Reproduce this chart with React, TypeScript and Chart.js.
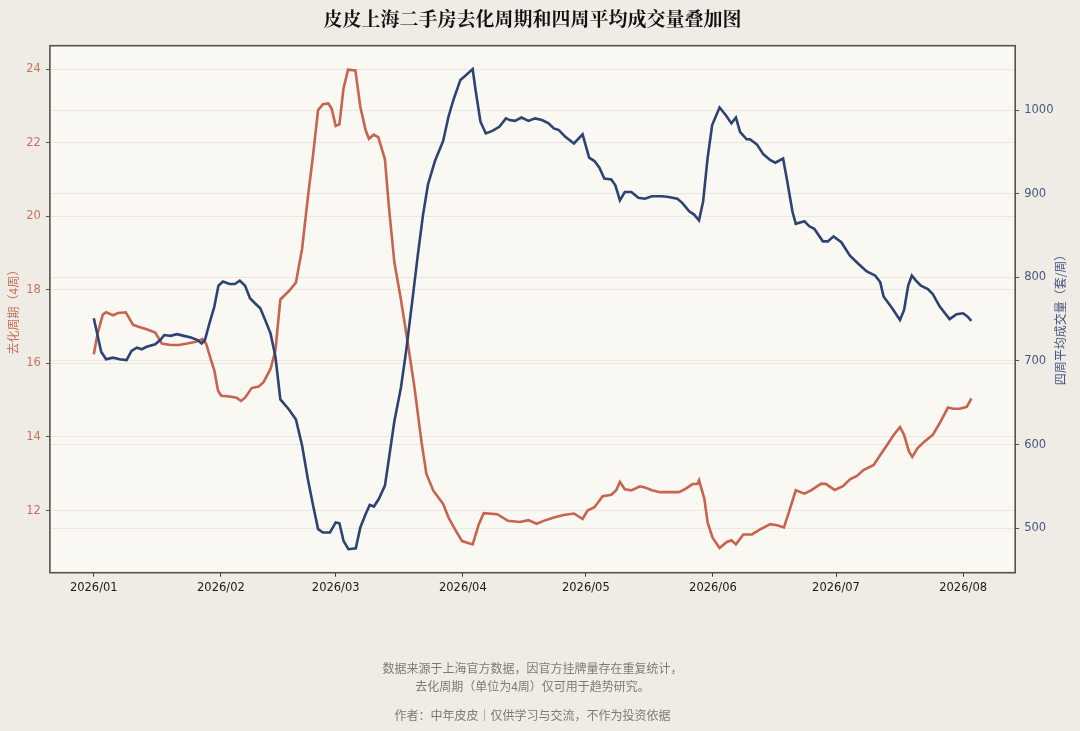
import React, { useEffect, useRef } from "react";
import { Chart, registerables } from "chart.js";

Chart.register(...registerables);

// ---- data (days counted from 2026-01-01) ----
const monthStartDays = [0, 31, 59, 90, 120, 151, 181, 212];
const monthLabels = ["2026/01", "2026/02", "2026/03", "2026/04", "2026/05", "2026/06", "2026/07", "2026/08"];

const cycleTicks = [12, 14, 16, 18, 20, 22, 24];
const volumeTicks = [500, 600, 700, 800, 900, 1000];

const cycleDays = [
  0, 0.95, 2.2, 3.0, 4.7, 5.9, 7.8, 9.6, 10.9, 12.9, 15.0, 16.6, 18.7, 20.8, 22.8, 24.9, 26.5, 27.4, 28.6, 29.4,
  30.3, 31.1, 33.1, 34.8, 35.9, 36.9, 38.5, 40.2, 41.4, 43.1, 44.3, 45.5, 47.6, 49.3, 50.8, 52.2, 53.5, 54.7, 55.9, 57.2,
  58.0, 59.0, 59.9, 60.9, 62.0, 63.8, 65.0, 66.3, 67.1, 68.3, 69.4, 71.0, 72.0, 73.3, 74.9, 76.6, 78.2, 79.9, 81.1, 82.8,
  85.2, 86.5, 88.1, 89.8, 92.4, 93.9, 95.1, 98.4, 101.0, 103.9, 106.0, 108.0, 109.7, 112.2, 114.6, 117.1, 119.2, 120.4, 122.1, 124.1,
  126.2, 127.4, 128.3, 129.5, 131.1, 133.2, 134.4, 136.1, 138.1, 140.2, 142.7, 144.3, 146.0, 147.2, 147.6, 148.9, 149.7, 150.9, 152.6, 154.3,
  155.5, 156.6, 158.4, 160.5, 162.5, 165.0, 166.6, 168.3, 169.5, 171.2, 173.3, 174.9, 177.4, 178.6, 180.7, 182.7, 184.4, 186.1, 187.7, 190.2,
  191.8, 193.5, 195.1, 196.6, 197.6, 198.8, 199.6, 200.9, 202.6, 204.6, 206.3, 208.3, 209.6, 211.2, 212.9, 213.7, 214.0,
];
const cycleValues = [
  16.25, 16.82, 17.33, 17.39, 17.31, 17.37, 17.39, 17.05, 17.0, 16.93, 16.84, 16.54, 16.5, 16.5, 16.54, 16.59, 16.66, 16.54, 16.09, 15.81,
  15.26, 15.12, 15.1, 15.07, 14.98, 15.07, 15.33, 15.37, 15.49, 15.85, 16.36, 17.74, 17.97, 18.2, 19.12, 20.5, 21.69, 22.89, 23.05, 23.07,
  22.93, 22.46, 22.5, 23.48, 23.99, 23.97, 22.98, 22.34, 22.11, 22.22, 22.15, 21.55, 20.22, 18.75, 17.74, 16.54, 15.35, 13.88, 13.0, 12.54,
  12.18, 11.81, 11.49, 11.17, 11.08, 11.63, 11.93, 11.9, 11.72, 11.69, 11.74, 11.64, 11.72, 11.81, 11.88, 11.92, 11.77, 12.0, 12.09, 12.39,
  12.43, 12.55, 12.78, 12.58, 12.55, 12.66, 12.63, 12.55, 12.5, 12.5, 12.5, 12.59, 12.72, 12.72, 12.82, 12.32, 11.67, 11.26, 10.98, 11.14,
  11.19, 11.08, 11.35, 11.35, 11.49, 11.63, 11.6, 11.54, 11.95, 12.55, 12.46, 12.55, 12.73, 12.72, 12.56, 12.66, 12.85, 12.94, 13.1, 13.24,
  13.51, 13.79, 14.06, 14.27, 14.06, 13.6, 13.46, 13.7, 13.88, 14.06, 14.38, 14.8, 14.77, 14.77, 14.82, 14.98, 15.05,
];

const volumeDays = [
  0, 1.0, 1.8, 3.0, 4.7, 6.3, 8.0, 9.2, 10.5, 11.7, 12.9, 15.0, 16.2, 17.2, 18.7, 20.3, 22.0, 23.7, 25.3, 26.3,
  27.1, 28.2, 29.4, 30.4, 31.5, 33.1, 34.4, 35.6, 36.9, 38.1, 39.3, 40.6, 41.8, 43.1, 44.3, 45.5, 47.6, 49.3, 50.8, 52.2,
  53.5, 54.7, 55.9, 57.6, 59.0, 59.9, 60.9, 62.1, 63.9, 65.0, 66.3, 67.3, 68.3, 69.5, 71.0, 72.0, 73.3, 74.9, 76.2, 77.8,
  79.0, 80.3, 81.5, 83.2, 85.2, 86.5, 87.7, 89.4, 90.6, 92.4, 93.1, 94.3, 95.6, 97.2, 98.9, 100.5, 101.4, 102.7, 104.3, 106.0,
  107.6, 109.3, 110.9, 112.2, 113.4, 115.0, 117.1, 119.2, 120.8, 122.1, 123.3, 124.5, 126.2, 127.2, 128.3, 129.5, 131.1, 132.8, 134.4, 136.1,
  138.6, 140.2, 142.3, 143.5, 145.2, 146.4, 147.6, 148.6, 149.7, 150.8, 152.6, 154.1, 155.5, 156.6, 157.6, 159.2, 160.0, 161.7, 163.3, 165.0,
  166.2, 168.1, 169.1, 170.4, 171.2, 173.3, 174.5, 175.7, 177.8, 179.0, 180.4, 182.3, 184.4, 186.5, 188.5, 190.6, 191.8, 192.6, 194.7, 196.6,
  197.6, 198.6, 199.5, 200.5, 201.7, 203.4, 204.6, 206.3, 208.7, 210.4, 212.0, 213.1, 214.0,
];
const volumeValues = [
  751, 729, 711, 702, 704, 702, 701, 712, 716, 714, 717, 720, 725, 731, 730, 732, 730, 728, 725, 721,
  725, 745, 765, 790, 795, 792, 792, 796, 790, 775, 769, 763, 749, 733, 705, 654, 642, 630, 599, 559,
  527, 499, 495, 495, 507, 506, 485, 475, 476, 501, 517, 528, 526, 535, 551, 584, 628, 668, 713, 777,
  826, 875, 911, 939, 963, 992, 1012, 1036, 1041, 1049, 1024, 986, 972, 975, 980, 990, 988, 987, 991, 987,
  990, 988, 984, 978, 976, 968, 960, 971, 943, 939, 931, 918, 917, 910, 892, 902, 902, 895, 894, 897,
  897, 896, 894, 889, 879, 875, 868, 891, 943, 982, 1003, 994, 984, 991, 974, 965, 965, 959, 947, 940,
  937, 942, 915, 878, 864, 867, 861, 858, 843, 843, 849, 842, 826, 816, 807, 802, 794, 777, 763, 749,
  761, 790, 802, 796, 790, 786, 780, 765, 750, 756, 757, 753, 748,
];

// ---- styling ----
const PAGE_BG = "#efece5";
const PLOT_BG = "#faf8f2";
const RED = "#c8634e";
const BLUE = "#2d4373";
const RED_TEXT = "#c8725f";
const BLUE_TEXT = "#4b5680";
const GRID = "rgba(205,200,185,0.35)";
const FRAME = "#55534b";
const TICK_FONT = { family: "'DejaVu Sans', sans-serif", size: 11.5 };
const CJK = "'Noto Sans CJK SC', 'Noto Sans', sans-serif";

const W = 1080;
const H = 731;
const PLOT_LEFT = 49.9;
const PLOT_RIGHT = 1015.2;
const PLOT_TOP = 45.7;
const PLOT_BOTTOM = 572.7;

export default function App() {
  const ref = useRef<HTMLCanvasElement | null>(null);

  useEffect(() => {
    if (!ref.current) return;
    const framePlugin = {
      id: "frame",
      beforeDraw(chart: any) {
        const { ctx, chartArea: a, width, height } = chart;
        ctx.save();
        ctx.fillStyle = PAGE_BG;
        ctx.fillRect(0, 0, width, height);
        ctx.fillStyle = PLOT_BG;
        ctx.fillRect(a.left, a.top, a.right - a.left, a.bottom - a.top);
        ctx.restore();
      },
      afterDraw(chart: any) {
        const { ctx, chartArea: a } = chart;
        ctx.save();
        ctx.strokeStyle = FRAME;
        ctx.lineWidth = 1.6;
        ctx.strokeRect(a.left, a.top, a.right - a.left, a.bottom - a.top);
        ctx.restore();
      },
    };

    const chart = new Chart(ref.current, {
      type: "line",
      data: {
        datasets: [
          {
            label: "四周平均成交量（套/周）",
            data: volumeDays.map((d, i) => ({ x: d, y: volumeValues[i] })),
            yAxisID: "yVolume",
            borderColor: BLUE,
            borderWidth: 2.6,
            pointRadius: 0,
            tension: 0,
            order: 0,
          },
          {
            label: "去化周期（4周）",
            data: cycleDays.map((d, i) => ({ x: d, y: cycleValues[i] })),
            yAxisID: "yCycle",
            borderColor: RED,
            borderWidth: 2.6,
            pointRadius: 0,
            tension: 0,
            order: 1,
          },
        ],
      },
      options: {
        animation: false,
        responsive: false,
        parsing: false as any,
        layout: { padding: { left: 0, right: 0, top: PLOT_TOP, bottom: H - PLOT_BOTTOM - 40 } },
        plugins: {
          legend: { display: false },
          tooltip: { enabled: false },
          title: { display: false },
        },
        scales: {
          x: {
            type: "linear",
            min: -10.7,
            max: 224.7,
            afterBuildTicks: (ax: any) => {
              ax.ticks = monthStartDays.map((v) => ({ value: v }));
            },
            afterFit: (s: any) => {
              s.height = 40;
            },
            ticks: {
              autoSkip: false,
              maxRotation: 0,
              padding: 4,
              color: "#1a1a1a",
              font: TICK_FONT,
              callback: (v: any) => {
                const i = monthStartDays.indexOf(Number(v));
                return i >= 0 ? monthLabels[i] : "";
              },
            },
            grid: { drawOnChartArea: false, drawTicks: true, tickLength: 4, tickColor: "#333", tickWidth: 1 },
            border: { display: false },
          },
          yCycle: {
            type: "linear",
            position: "left",
            min: 10.31,
            max: 24.64,
            afterBuildTicks: (ax: any) => {
              ax.ticks = cycleTicks.map((v) => ({ value: v }));
            },
            afterFit: (s: any) => {
              s.width = PLOT_LEFT;
            },
            ticks: { autoSkip: false, padding: 5, color: RED_TEXT, font: TICK_FONT, callback: (v: any) => String(v) },
            grid: { drawOnChartArea: true, color: GRID, lineWidth: 1, tickLength: 4, tickColor: "#555", tickWidth: 1 },
            border: { display: false },
            title: {
              display: true,
              text: "去化周期（4周）",
              color: RED_TEXT,
              font: { family: CJK, size: 12 },
              padding: { top: 6, bottom: 0 },
            },
          },
          yVolume: {
            type: "linear",
            position: "right",
            min: 446.9,
            max: 1076.9,
            afterBuildTicks: (ax: any) => {
              ax.ticks = volumeTicks.map((v) => ({ value: v }));
            },
            afterFit: (s: any) => {
              s.width = W - PLOT_RIGHT;
            },
            ticks: { autoSkip: false, padding: 5, color: BLUE_TEXT, font: TICK_FONT, callback: (v: any) => String(v) },
            grid: { drawOnChartArea: true, color: GRID, lineWidth: 1, tickLength: 4, tickColor: "#555", tickWidth: 1 },
            border: { display: false },
          },
        },
      } as any,
      plugins: [framePlugin],
    });
    return () => chart.destroy();
  }, []);

  const centerBox: React.CSSProperties = {
    position: "absolute",
    left: PLOT_LEFT,
    width: PLOT_RIGHT - PLOT_LEFT,
    textAlign: "center",
    fontFamily: CJK,
    whiteSpace: "nowrap",
  };

  return (
    <div style={{ position: "absolute", left: 0, top: 0, width: W, height: H, background: PAGE_BG, overflow: "hidden" }}>
      <canvas ref={ref} width={W} height={H} style={{ position: "absolute", left: 0, top: 0, width: W, height: H }} />
      <div style={{ ...centerBox, top: 5, fontSize: 19, fontWeight: 700, color: "#111", lineHeight: "26px", fontFamily: "'Noto Serif CJK SC', " + CJK }}>
        皮皮上海二手房去化周期和四周平均成交量叠加图
      </div>
      <div
        style={{
          position: "absolute",
          left: 1060 - 80,
          top: (PLOT_TOP + PLOT_BOTTOM) / 2 + 8 - 9,
          width: 160,
          height: 18,
          lineHeight: "18px",
          textAlign: "center",
          transform: "rotate(-90deg)",
          transformOrigin: "50% 50%",
          fontFamily: CJK,
          fontSize: 12,
          color: BLUE_TEXT,
          whiteSpace: "nowrap",
        }}
      >
        四周平均成交量（套/周）
      </div>
      <div style={{ ...centerBox, top: 659, fontSize: 12, color: "#7d7b76", lineHeight: "18px" }}>
        数据来源于上海官方数据，因官方挂牌量存在重复统计，
        <br />
        去化周期（单位为4周）仅可用于趋势研究。
      </div>
      <div style={{ ...centerBox, top: 706, fontSize: 12, color: "#7d7b76", lineHeight: "18px" }}>
        作者：中年皮皮｜仅供学习与交流，不作为投资依据
      </div>
    </div>
  );
}
